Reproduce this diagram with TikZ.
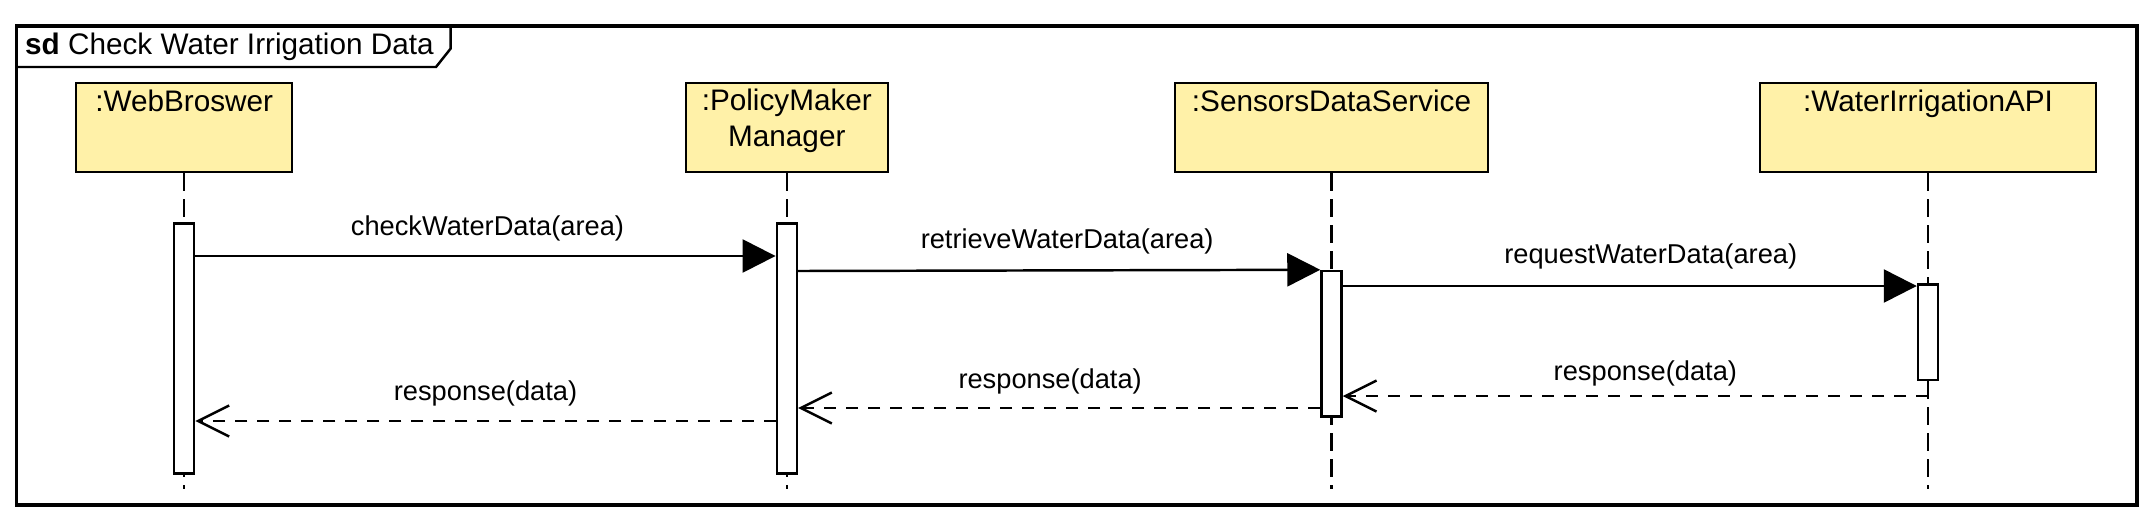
\documentclass[tikz,border=0pt]{standalone}
\usepackage{fontspec}
\setmainfont{Liberation Sans}
\usetikzlibrary{arrows.meta}
\definecolor{jaune}{RGB}{255,241,168}

\begin{document}
\begin{tikzpicture}[x=0.01cm,y=-0.01cm,
    objet/.style={draw,line width=0.7pt,fill=jaune,minimum height=0.89cm,inner sep=0},
    nom/.style={font=\fontsize{8.45}{10}\selectfont,align=center,anchor=base},
    activ/.style={draw,line width=0.7pt,fill=white,minimum width=0.2cm,inner sep=0},
    vie/.style={line width=0.7pt,dash pattern=on 0.18cm off 0.08cm},
    appel/.style={line width=0.7pt,-{Triangle[length=0.33cm,width=0.33cm]}},
    retour/.style={line width=0.7pt,dash pattern=on 0.12cm off 0.1cm,-{Straight Barb[length=0.31cm,width=0.31cm]}},
    msg/.style={font=\fontsize{7.75}{9}\selectfont,inner sep=0,above=#1}]
    \useasboundingbox (0,0) rectangle (2155,527);

    % Cadre
    \draw[line width=0.95pt] (16.5,26) rectangle (2137,505);
    \draw[line width=0.7pt] (16.5,67) -- (436,67) -- (450.7,48.5) -- (450.7,26);
    \node[anchor=base west,inner sep=0,font=\fontsize{8.45}{10}\selectfont] (titre) at (24.5,54) {\textbf{sd} Check Water Irrigation Data};

    % Objets
    \node[objet,minimum width=2.16cm] (wb) at (184.2,127.5) {};
    \node[objet,minimum width=2.02cm] (pm) at (786.8,127.5) {};
    \node[objet,minimum width=3.13cm] (sd) at (1331.5,127.5) {};
    \node[objet,minimum width=3.36cm] (ap) at (1928,127.5) {};
    \node[nom] (wbn) at (184.2,111) {:WebBroswer};
    \node[nom] (pmn) at (786.8,146) {:PolicyMaker\\Manager};
    \node[nom] (sdn) at (1331.5,111) {:SensorsDataService};
    \node[nom] (apn) at (1928,111) {:WaterIrrigationAPI};

    % Lignes de vie
    \coordinate (wbf) at (184.2,489);
    \coordinate (pmf) at (786.8,489);
    \coordinate (sdf) at (1331.5,489);
    \coordinate (apf) at (1928,489);
    \draw[vie] (wb.south) -- (wbf);
    \draw[vie] (pm.south) -- (pmf);
    \draw[vie] (sd.south) -- (sdf);
    \draw[vie] (ap.south) -- (apf);

    % Activations
    \node[activ,minimum height=2.5cm] (wba) at (184.2,348.4) {};
    \node[activ,minimum height=2.5cm] (pma) at (786.8,348.4) {};
    \node[activ,minimum height=1.455cm] (sda) at (1331.5,343.8) {};
    \node[activ,minimum height=0.955cm] (apa) at (1928,332.3) {};

    % Appels
    \draw[appel] (wba.east |- 0,256) -- node[msg=0.137cm,xshift=0.02cm] (m1) {checkWaterData(area)} (pma.west |- 0,256);
    \draw[appel] (pma.east |- 0,271) -- node[msg=0.152cm,xshift=0.08cm] (m2) {retrieveWaterData(area)} (sda.north west);
    \draw[appel] (sda.east |- 0,286) -- node[msg=0.152cm,xshift=0.21cm] (m3) {requestWaterData(area)} (apa.west |- 0,286);

    % Retours
    \coordinate (apr) at (1928,396);
    \draw[retour] (apr) -- node[msg=0.087cm,xshift=0.1cm] (r1) {response(data)} (sda.east |- apr);
    \draw[retour] (sda.west |- 0,408) -- node[msg=0.126cm,xshift=-0.09cm] (r2) {response(data)} (pma.east |- 0,408);
    \draw[retour] (pma.west |- 0,421) -- node[msg=0.136cm] (r3) {response(data)} (wba.east |- 0,421);
\end{tikzpicture}
\end{document}
